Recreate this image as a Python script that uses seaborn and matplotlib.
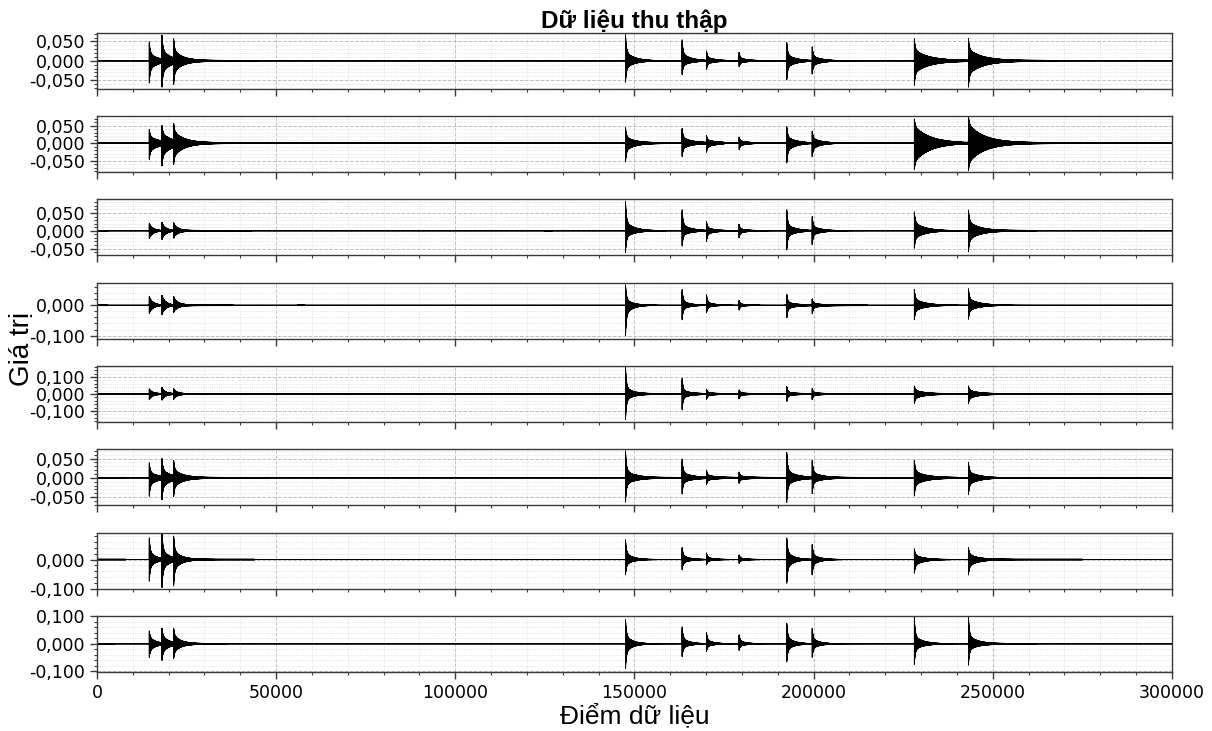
import numpy as np
import pandas as pd
import seaborn as sns
import matplotlib
matplotlib.use("Agg")
import matplotlib.pyplot as plt
from matplotlib.ticker import MultipleLocator, AutoMinorLocator, FuncFormatter

# ---------------- data ----------------
n_samples = 300000
burst_onsets = [14600, 18150, 21400, 147500, 163300, 170100, 179200,
                192500, 199600, 228100, 243200]

# peak positive / negative amplitude of every burst, one list per channel
ch1_pos = [0.049, 0.061, 0.049, 0.067, 0.054, 0.024, 0.021, 0.047, 0.035, 0.056, 0.056]
ch1_neg = [0.057, 0.062, 0.053, 0.055, 0.036, 0.021, 0.015, 0.049, 0.033, 0.062, 0.066]
ch2_pos = [0.039, 0.044, 0.047, 0.043, 0.040, 0.019, 0.017, 0.047, 0.033, 0.069, 0.073]
ch2_neg = [0.047, 0.058, 0.049, 0.053, 0.038, 0.024, 0.019, 0.057, 0.038, 0.076, 0.076]
ch3_pos = [0.021, 0.022, 0.021, 0.083, 0.059, 0.025, 0.018, 0.059, 0.039, 0.053, 0.057]
ch3_neg = [0.021, 0.023, 0.019, 0.061, 0.043, 0.029, 0.019, 0.054, 0.038, 0.049, 0.058]
ch4_pos = [0.029, 0.031, 0.027, 0.067, 0.052, 0.034, 0.016, 0.034, 0.019, 0.052, 0.054]
ch4_neg = [0.027, 0.029, 0.022, 0.100, 0.048, 0.025, 0.016, 0.040, 0.027, 0.048, 0.046]
ch5_pos = [0.028, 0.035, 0.028, 0.159, 0.091, 0.026, 0.022, 0.041, 0.029, 0.045, 0.045]
ch5_neg = [0.031, 0.033, 0.028, 0.151, 0.092, 0.031, 0.027, 0.041, 0.031, 0.053, 0.053]
ch6_pos = [0.039, 0.046, 0.039, 0.070, 0.048, 0.018, 0.014, 0.065, 0.044, 0.044, 0.040]
ch6_neg = [0.048, 0.052, 0.042, 0.063, 0.041, 0.016, 0.013, 0.063, 0.039, 0.046, 0.044]
ch7_pos = [0.075, 0.089, 0.074, 0.068, 0.042, 0.022, 0.016, 0.075, 0.051, 0.037, 0.040]
ch7_neg = [0.075, 0.092, 0.084, 0.053, 0.036, 0.018, 0.013, 0.082, 0.052, 0.047, 0.052]
ch8_pos = [0.047, 0.053, 0.051, 0.088, 0.062, 0.040, 0.033, 0.075, 0.055, 0.096, 0.100]
ch8_neg = [0.050, 0.056, 0.048, 0.090, 0.047, 0.027, 0.024, 0.066, 0.049, 0.075, 0.077]

pos_amps = [ch1_pos, ch2_pos, ch3_pos, ch4_pos, ch5_pos, ch6_pos, ch7_pos, ch8_pos]
neg_amps = [ch1_neg, ch2_neg, ch3_neg, ch4_neg, ch5_neg, ch6_neg, ch7_neg, ch8_neg]

# ringing tail: share of the slow part and its length (samples), per channel,
# for the first group (bursts 1-3), the middle group (4-9) and the last group (10-11)
tail_share_first = [0.40, 0.50, 0.85, 0.85, 0.85, 0.40, 0.35, 0.50]
tail_len_first = [2500, 3000, 1200, 1200, 1000, 2500, 2000, 2000]
tail_share_mid = [0.35, 0.40, 0.30, 0.30, 0.25, 0.30, 0.35, 0.35]
tail_len_mid = [2500, 2500, 2500, 2000, 2000, 2500, 2000, 2000]
tail_share_last = [0.50, 0.70, 0.45, 0.40, 0.50, 0.40, 0.45, 0.30]
tail_len_last = [4000, 4500, 3000, 3000, 2500, 3000, 2500, 2500]

# stretches with a slightly raised noise floor, per channel (start, end)
floor_spans = [
    [(22000, 45000), (228000, 268000)],
    [(22000, 50000), (125000, 127000), (147000, 175000), (243000, 273000)],
    [(0, 3000), (22000, 43000), (125000, 127000), (243000, 262000)],
    [(0, 3000), (22000, 38000), (56000, 58000), (192000, 215000)],
    [(0, 300000)],
    [(0, 8000), (22000, 48000), (150000, 240000), (258000, 300000)],
    [(0, 8000), (22000, 44000), (243000, 275000)],
    [(0, 5000), (22000, 36000), (243000, 262000)],
]
floor_level = [0.0009, 0.0010, 0.0009, 0.0012, 0.0022, 0.0009, 0.0010, 0.0010]

y_limits = [(-0.072, 0.072), (-0.083, 0.077), (-0.069, 0.088), (-0.110, 0.074),
            (-0.165, 0.165), (-0.071, 0.074), (-0.100, 0.093), (-0.102, 0.102)]
y_major_step = [0.05, 0.05, 0.05, 0.1, 0.1, 0.05, 0.1, 0.1]

title = "Dữ liệu thu thập"
x_label = "Điểm dữ liệu"
y_label = "Giá trị"

# ---------------- build the traces ----------------
idx = np.arange(n_samples)
sign = np.where(idx % 2 == 0, 1.0, -1.0)


def channel_trace(c):
    up = np.full(n_samples, 0.00025)
    dn = np.full(n_samples, 0.00025)
    for (a, b) in floor_spans[c]:
        up[a:b] += floor_level[c]
        dn[a:b] += floor_level[c]
    for k, onset in enumerate(burst_onsets):
        if k < 3:
            s, L = tail_share_first[c], tail_len_first[c]
        elif k < 9:
            s, L = tail_share_mid[c], tail_len_mid[c]
        else:
            s, L = tail_share_last[c], tail_len_last[c]
        t = idx[onset:] - onset
        shape = (1 - s) * np.exp(-t / 250.0) + s * np.exp(-t / L)
        up[onset:] += pos_amps[c][k] * shape
        dn[onset:] += neg_amps[c][k] * shape
    return np.where(sign > 0, up, -dn)


# ---------------- figure ----------------
sns.set_style("white")
plt.rcParams["font.family"] = ["DejaVu Sans"]
plt.rcParams["agg.path.chunksize"] = 20000
plt.rcParams["text.color"] = "black"
plt.rcParams["axes.labelcolor"] = "black"
plt.rcParams["xtick.color"] = "black"
plt.rcParams["ytick.color"] = "black"

fig, axes = plt.subplots(8, 1, figsize=(12.12, 7.31), dpi=100, sharex=True,
                         gridspec_kw=dict(left=0.080, right=0.967, top=0.955,
                                          bottom=0.081, hspace=0.49))

fmt = FuncFormatter(lambda v, p: ("%.3f" % (0.0 if abs(v) < 1e-12 else v)).replace(".", ","))

for c, ax in enumerate(axes):
    df = pd.DataFrame({"x": idx, "y": channel_trace(c)})
    sns.lineplot(data=df, x="x", y="y", ax=ax, color="black", linewidth=0.6,
                 estimator=None, sort=False, legend=False)
    ax.set_xlim(0, 300000)
    ax.set_ylim(*y_limits[c])
    ax.xaxis.set_major_locator(MultipleLocator(50000))
    ax.xaxis.set_minor_locator(AutoMinorLocator(5))
    ax.yaxis.set_major_locator(MultipleLocator(y_major_step[c]))
    ax.yaxis.set_minor_locator(AutoMinorLocator(5))
    ax.yaxis.set_major_formatter(fmt)
    ax.grid(which="major", linestyle="--", color="#bdbdbd", linewidth=0.7)
    ax.grid(which="minor", linestyle=":", color="#d9d9d9", linewidth=0.6)
    ax.set_axisbelow(True)
    ax.set_xlabel("")
    ax.set_ylabel("")
    for sp in ax.spines.values():
        sp.set_color("#3a3a3a")
        sp.set_linewidth(1.0)
    ax.tick_params(which="major", direction="out", length=5, width=1,
                   labelsize=12.5, color="#3a3a3a", labelcolor="black",
                   left=True, bottom=True)
    ax.tick_params(which="minor", direction="out", length=2.5, width=0.8,
                   color="#3a3a3a", left=True, bottom=True)
    ax.tick_params(axis="x", labelbottom=(c == len(axes) - 1))

label_font = ["Liberation Sans", "DejaVu Sans"]
axes[0].set_title(title, fontsize=17.5, fontweight="bold", pad=3, color="black",
                  family=label_font)
fig.text(0.5235, 0.021, x_label, ha="center", va="center", fontsize=19,
         color="black", family=label_font)
fig.text(0.018, 0.522, y_label, ha="center", va="center", rotation=90,
         fontsize=20, color="black", family=label_font)

fig.savefig("out.png", dpi=100)
